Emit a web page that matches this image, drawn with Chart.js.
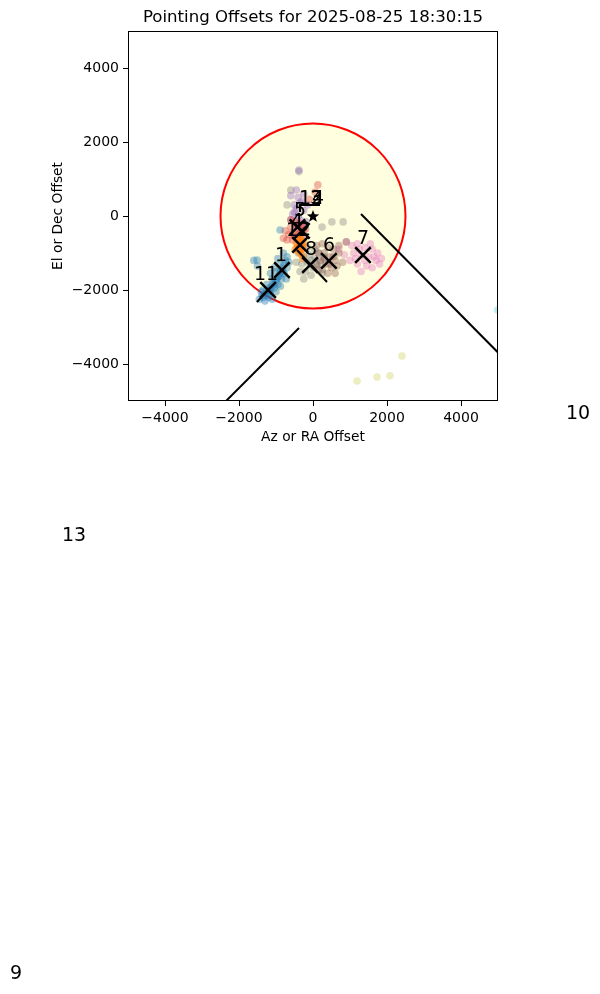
<!DOCTYPE html>
<html>
<head>
<meta charset="utf-8">
<script src="https://cdn.jsdelivr.net/npm/chart.js@4.4.0/dist/chart.umd.min.js"></script>
<style>
  html, body { margin: 0; padding: 0; background: #fff; }
  canvas { display: block; }
</style>
</head>
<body>
<canvas id="myChart" width="600" height="994"></canvas>
<script>
// tick labels on both axes
const TICKS = [-4000, -2000, 0, 2000, 4000];
const AX_MIN = -5000, AX_MAX = 5000;
const BEAM_RADIUS = 2500;

// scatter clusters (Az/RA offset, El/Dec offset)
const blue_pts = [[-1450,-2250],[-1380,-2150],[-1300,-2100],[-1250,-2020],[-1180,-1950],[-1120,-1900],[-1080,-1820],[-1000,-1750],[-950,-1650],[-900,-1550],[-870,-1480],[-820,-1400],[-780,-1300],[-750,-1200],[-700,-1100],[-1350,-2000],[-1150,-2100],[-1050,-1950],[-950,-1850],[-1250,-1850],[-1100,-1700],[-850,-1700],[-780,-1550],[-700,-1400],[-900,-1300],[-1000,-1500],[-1200,-2200],[-1400,-2050],[-1000,-2050],[-650,-1250],[-1600,-1200],[-1500,-1350],[-1150,-1550],[-800,-1000],[-950,-1150],[-1300,-2300],[-1100,-2250],[-720,-1700],[-1050,-1400],[-880,-1900],[-890,-380],[-1510,-1190],[-1250,-2150],[-1150,-1980],[-1050,-1850],[-980,-1700],[-900,-1620],[-820,-1500],[-1350,-2200],[-1200,-2050]];
const orange_pts = [[-400,-650],[-350,-700],[-300,-750],[-420,-800],[-380,-850],[-320,-900],[-280,-820],[-450,-720],[-350,-600],[-300,-650],[-400,-950],[-250,-700],[-360,-780],[-330,-820],[-430,-880],[-270,-880],[-480,-900],[-300,-1050],[-280,-1150],[-350,-1000]];
const red_pts = [[-600,-300],[-550,-450],[-500,-550],[-450,-250],[-400,-350],[-350,-450],[-300,-300],[-250,-400],[-650,-500],[-700,-650],[-550,-650],[-450,-600],[-350,-200],[-500,-150],[-600,-100],[-300,-550],[-750,-400],[-800,-600],[-200,-350],[-400,-500],[130,840],[-100,450],[60,650]];
const purple_pts = [[-400,500],[-350,350],[-450,200],[-500,100],[-400,0],[-350,-100],[-450,-200],[-300,-250],[-550,50],[-600,-100],[-250,150],[-300,400],[-500,300],[-400,-300],[-200,-150],[-380,1240],[-450,700],[-600,550],[-250,600],[-150,300]];
const brown_pts = [[100,-800],[250,-750],[400,-850],[550,-900],[700,-1000],[300,-1000],[450,-1100],[600,-1200],[200,-1200],[350,-1300],[500,-1400],[650,-1350],[250,-1450],[400,-1550],[150,-1000],[800,-1250],[550,-1100],[300,-1150],[450,-1300],[700,-800],[900,-700],[100,-1350],[600,-1550]];
const pink_pts = [[900,-700],[1050,-800],[1200,-750],[1400,-850],[1600,-900],[1750,-1000],[1100,-1000],[1300,-1050],[1500,-1100],[1700,-1200],[1000,-1200],[1200,-1300],[1450,-1350],[1600,-1400],[1300,-1500],[1800,-1300],[850,-1050],[1550,-750],[1250,-900],[1400,-1200],[1650,-1100],[1150,-1150],[700,-900],[1850,-1150]];
const grey_pts = [[-400,-1000],[-250,-1100],[-100,-1050],[50,-1150],[200,-1250],[-300,-1300],[-150,-1250],[0,-1400],[150,-1450],[-200,-1500],[-50,-1600],[100,-1300],[-350,-1500],[300,-1100],[50,-900],[-150,-850],[250,-1550],[-250,-1700],[-450,-1250],[-50,-1200],[150,-1000],[510,-160],[815,-160],[245,-300],[-700,300],[-600,700],[-380,1200]];
const olive_pts = [[1190,-4460],[1730,-4350],[2080,-4320],[2405,-3785]];
const cyan_pts = [[4990,-2540]];

// mean offsets (x markers) and the reference point (star)
const mean_pts = [[-1215,-2000],[-840,-1460],[-80,-1325],[430,-1215],[1350,-1055],[-300,-400],[-350,-780],[-420,-300]];
const star_pts = [[0,0]];

// annotation arrows
const arrow_lines = [
  [[1297,54],[6000,-4700]],
  [[-432,-919],[378,-1784]],
  [[-378,-3027],[-2600,-5250]],
  [[-1514,-2324],[-1216,-2000]],
  [[-351,108],[-351,297],[189,297]]
];

// point labels: text, x, y (data coords)
const label_text = ["11", "1", "8", "6", "7", "2", "12", "12", "3", "4", "5", "4", "10", "13", "9"];
const label_x = [-1270, -865, -54, 432, 1351, -216, -405, -54, 81, 135, -351, -432, 7162, -6459, -8027];
const label_y = [-1595, -1080, -919, -811, -622, -378, -405, 460, 460, 460, 135, -162, -5351, -8649, -20486];

const FONT = "'DejaVu Sans', sans-serif";

function toXY(arr) { return arr.map(p => ({x: p[0], y: p[1]})); }

// filled star marker
const starImg = document.createElement('canvas');
starImg.width = 14; starImg.height = 14;
(function () {
  const c = starImg.getContext('2d');
  c.fillStyle = '#000';
  c.beginPath();
  for (let i = 0; i < 10; i++) {
    const r = i % 2 === 0 ? 6.5 : 2.8;
    const a = -Math.PI / 2 + i * Math.PI / 5;
    const px = 7 + r * Math.cos(a), py = 7.5 + r * Math.sin(a);
    if (i === 0) c.moveTo(px, py); else c.lineTo(px, py);
  }
  c.closePath();
  c.fill();
})();

function cluster(pts, color, order) {
  return {
    type: 'scatter', data: toXY(pts), order: order,
    backgroundColor: color, borderWidth: 0, pointRadius: 3.8, clip: 0
  };
}

const datasets = [];
datasets.push({
  type: 'scatter', data: toXY(mean_pts), order: 0, clip: 0,
  pointStyle: 'crossRot', pointRadius: 11, borderColor: '#000', borderWidth: 2.5
});
datasets.push({
  type: 'scatter', data: toXY(star_pts), order: 0, clip: 0,
  pointStyle: starImg
});
arrow_lines.forEach(l => {
  datasets.push({
    type: 'line', data: toXY(l), order: 1, clip: 0, showLine: true,
    borderColor: '#000', borderWidth: 2, pointRadius: 0, fill: false, tension: 0
  });
});
datasets.push(cluster(blue_pts, 'rgba(31,119,180,0.4)', 2));
datasets.push(cluster(orange_pts, 'rgba(255,127,14,0.5)', 2));
datasets.push(cluster(red_pts, 'rgba(214,39,40,0.35)', 3));
datasets.push(cluster(purple_pts, 'rgba(148,103,189,0.4)', 3));
datasets.push(cluster(brown_pts, 'rgba(140,86,75,0.38)', 3));
datasets.push(cluster(pink_pts, 'rgba(227,119,194,0.4)', 3));
datasets.push(cluster(grey_pts, 'rgba(127,127,127,0.38)', 4));
datasets.push(cluster(olive_pts, 'rgba(188,189,34,0.28)', 3));
datasets.push(cluster(cyan_pts, 'rgba(23,190,207,0.28)', 3));

const extras = {
  id: 'extras',
  beforeDatasetsDraw(chart) {
    const ctx = chart.ctx, xs = chart.scales.x, ys = chart.scales.y, a = chart.chartArea;
    const cx = xs.getPixelForValue(0), cy = ys.getPixelForValue(0);
    const r = xs.getPixelForValue(BEAM_RADIUS) - cx;
    ctx.save();
    ctx.beginPath(); ctx.rect(a.left, a.top, a.right - a.left, a.bottom - a.top); ctx.clip();
    ctx.beginPath(); ctx.arc(cx, cy, r, 0, Math.PI * 2);
    ctx.fillStyle = '#ffffe0'; ctx.fill();
    ctx.lineWidth = 2; ctx.strokeStyle = '#ff0000'; ctx.stroke();
    ctx.restore();
  },
  afterDraw(chart) {
    const ctx = chart.ctx, xs = chart.scales.x, ys = chart.scales.y, a = chart.chartArea;
    ctx.save();
    ctx.strokeStyle = '#000'; ctx.lineWidth = 1;
    ctx.strokeRect(a.left + 0.5, a.top + 0.5, a.right - a.left - 1, a.bottom - a.top - 1);
    ctx.fillStyle = '#000';
    ctx.textAlign = 'center'; ctx.textBaseline = 'middle';
    ctx.font = '19px ' + FONT;
    for (let i = 0; i < label_text.length; i++) {
      ctx.fillText(label_text[i], xs.getPixelForValue(label_x[i]), ys.getPixelForValue(label_y[i]));
    }
    ctx.font = '16.6px ' + FONT;
    ctx.fillText('Pointing Offsets for 2025-08-25 18:30:15', (a.left + a.right) / 2, 18);
    ctx.font = '13.8px ' + FONT;
    ctx.fillText('Az or RA Offset', (a.left + a.right) / 2, 437);
    ctx.translate(58, (a.top + a.bottom) / 2);
    ctx.rotate(-Math.PI / 2);
    ctx.fillText('El or Dec Offset', 0, 0);
    ctx.restore();
  }
};

function axis(pos) {
  return {
    type: 'linear', position: pos, min: AX_MIN, max: AX_MAX,
    afterBuildTicks: s => { s.ticks = TICKS.map(v => ({value: v})); },
    afterFit: s => { if (pos === 'left') s.width = 128; else s.height = 40; },
    border: {display: false},
    grid: {drawOnChartArea: false, drawTicks: true, tickLength: 5, tickColor: '#000', tickWidth: 1},
    ticks: {
      color: '#000', font: {family: FONT, size: 14}, padding: 4, maxRotation: 0,
      callback: v => String(v).replace('-', '\u2212')
    }
  };
}

new Chart(document.getElementById('myChart').getContext('2d'), {
  data: {datasets: datasets},
  options: {
    responsive: false, animation: false, devicePixelRatio: 1,
    layout: {padding: {left: 0, right: 102, top: 31, bottom: 553}},
    scales: {x: axis('bottom'), y: axis('left')},
    plugins: {legend: {display: false}, title: {display: false}, tooltip: {enabled: false}}
  },
  plugins: [extras]
});
</script>
</body>
</html>
